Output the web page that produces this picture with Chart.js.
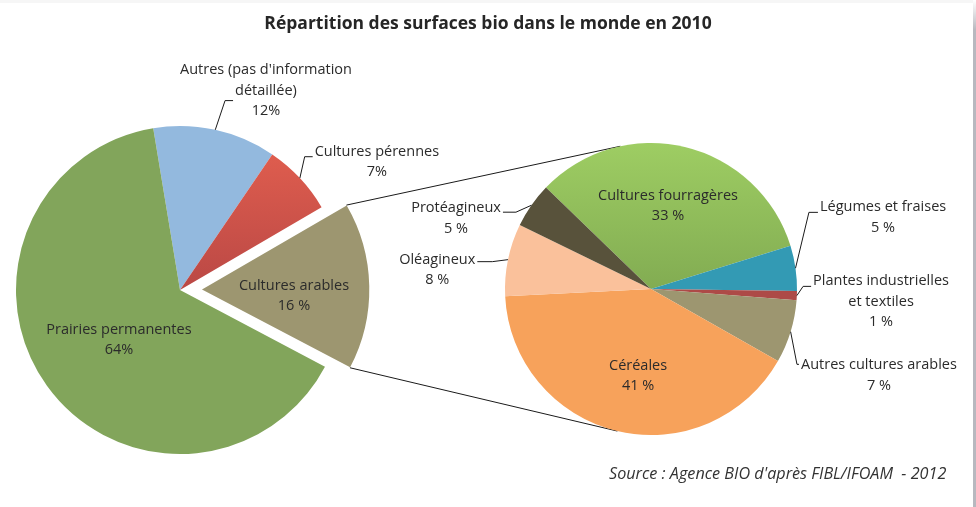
<!DOCTYPE html>
<html lang="fr">
<head>
<meta charset="utf-8">
<script src="https://cdn.jsdelivr.net/npm/chart.js@4.4.0/dist/chart.umd.min.js"></script>
<style>
  html, body { margin: 0; padding: 0; background: #fff; }
  #wrap { position: relative; width: 976px; height: 507px; overflow: hidden; background: #fff; }
  #wrap canvas { position: absolute; left: 0; top: 0; }
  #topline { position: absolute; left: 0; top: 0; width: 976px; height: 3px; background: #f6f6f6; }
  #edge { position: absolute; left: 973px; top: 0; width: 3px; height: 507px;
          background: linear-gradient(to bottom, #ffffff 0px, #b8b8bf 30px, #b8b8bf 100%); }
  #title { position: absolute; left: 0; top: 12px; width: 976px; text-align: center;
           font: bold 17.5px "Open Sans", sans-serif; line-height: 20px; color: #262626; }
  #source { position: absolute; left: 609px; top: 463px; white-space: pre;
            font: italic 16.2px "Open Sans", sans-serif; line-height: 20px; color: #333; }
</style>
</head>
<body>
<div id="wrap">
  <div id="topline"></div>
  <canvas id="leftPie" width="976" height="507"></canvas>
  <canvas id="rightPie" width="976" height="507"></canvas>
  <div id="title">Répartition des surfaces bio dans le monde en 2010</div>
  <div id="source">Source : Agence BIO d'après FIBL/IFOAM  - 2012</div>
  <div id="edge"></div>
</div>
<script>
// données du graphique
const leftLabels = ["Autres (pas d'information\ndétaillée)", 'Cultures pérennes', 'Cultures arables', 'Prairies permanentes'];
const leftValues = [12, 7, 16, 64];
const leftPctText = ['12%', '7%', '16 %', '64%'];

const rightLabels = ['Cultures fourragères', 'Légumes et fraises', 'Plantes industrielles\net textiles',
                     'Autres cultures arables', 'Céréales', 'Oléagineux', 'Protéagineux'];
const rightValues = [33, 5, 1, 7, 41, 8, 5];
const rightPctText = ['33 %', '5 %', '1 %', '7 %', '41 %', '8 %', '5 %'];

const LABEL_FONT = '14.5px "Open Sans", sans-serif';
const LINE_H = 20.5;
const TEXT_COLOR = '#2b2b2b';

// couleurs : chaîne simple ou [haut, bas] pour un dégradé vertical
const leftColors = ['#93B9DE', ['#E66150', '#BA4845'], '#9D9670', '#82A55B'];
const rightColors = [['#9ECD63', '#82AC52'], '#339AB4', '#AD4A47', '#9D9670', '#F7A25B', '#FAC19B', '#58523B'];

function paint(colors) {
    return (c) => {
        const col = colors[c.dataIndex];
        if (!Array.isArray(col)) return col;
        const area = c.chart.chartArea;
        if (!area) return col[0];
        const cy = (area.top + area.bottom) / 2;
        const r = c.dataset.radius;
        const g = c.chart.ctx.createLinearGradient(0, cy - r, 0, cy);
        g.addColorStop(0, col[0]);
        g.addColorStop(1, col[1]);
        return g;
    };
}

// placement des étiquettes : distance (x rayon) et décalage d'angle par rapport au milieu de la part
const leftLayout = [
    { dist: 1.324, turn: 10.9, leader: { line: 1, dy: 10, len: 8 } },
    { dist: 1.432, turn: 10.0, leader: { line: 0, dy: 5, len: 8 } },
    { dist: 0.696, turn: 4.2 },
    { dist: 0.481, turn: -3.5 }
];
const rightLayout = [
    { dist: 0.58, turn: -1.8 },
    { dist: 1.663, turn: -8.9, leader: { line: 0, dy: 5, len: 9 } },
    { dist: 1.578, turn: 0.6, leader: { line: 0, dy: 5, len: 8 } },
    { dist: 1.67, turn: 3.8, leader: { line: 0, dy: -1, len: 2 } },
    { dist: 0.60, turn: -4.9 },
    { dist: 1.47, turn: -6.5, leader: { line: 0, dy: 2, len: 15 } },
    { dist: 1.42, turn: -15.1, leader: { line: 0, dy: 4, len: 13 } }
];

const pieLabels = {
    id: 'pieLabels',
    afterDatasetsDraw(chart, args, opts) {
        const ctx = chart.ctx;
        const arcs = chart.getDatasetMeta(0).data;
        ctx.save();
        ctx.font = LABEL_FONT;
        ctx.fillStyle = TEXT_COLOR;
        ctx.strokeStyle = '#1a1a1a';
        ctx.lineWidth = 1;
        ctx.textAlign = 'center';
        ctx.textBaseline = 'middle';
        arcs.forEach((arc, i) => {
            const lay = opts.layout[i];
            const lines = opts.names[i].split('\n').concat(opts.pcts[i]);
            const mid = (arc.startAngle + arc.endAngle) / 2;
            const cx = arc.x, cy = arc.y;
            const r = arc.outerRadius;
            const a = mid + lay.turn * Math.PI / 180;
            const bx = cx + Math.cos(a) * lay.dist * r;
            const by = cy + Math.sin(a) * lay.dist * r;
            const y0 = by - (lines.length - 1) * LINE_H / 2;
            lines.forEach((t, k) => ctx.fillText(t, bx, y0 + k * LINE_H));

            if (lay.leader) {
                const L = lay.leader;
                const ly = y0 + L.line * LINE_H + L.dy;
                const w = ctx.measureText(lines[L.line]).width;
                const side = bx > cx ? -1 : 1;
                const ax = bx + side * (w / 2 + 2);
                const ex = ax + side * L.len;
                const px = cx + Math.cos(mid) * r;
                const py = cy + Math.sin(mid) * r;
                ctx.beginPath();
                ctx.moveTo(ax, ly);
                ctx.lineTo(ex, ly);
                ctx.lineTo(px, py);
                ctx.stroke();
            }
        });
        ctx.restore();
    }
};

function pieOptions(padding, names, pcts, layout) {
    return {
        responsive: false,
        animation: false,
        layout: { padding: padding },
        plugins: {
            legend: { display: false },
            tooltip: { enabled: false },
            pieLabels: { names: names, pcts: pcts, layout: layout }
        }
    };
}

const leftChart = new Chart(document.getElementById('leftPie'), {
    type: 'pie',
    data: {
        labels: leftLabels,
        datasets: [{
            data: leftValues,
            backgroundColor: paint(leftColors),
            borderWidth: 0,
            offset: [0, 0, 88, 0],
            rotation: -9.4,
            radius: 164
        }]
    },
    options: pieOptions({ left: 0, right: 616, top: 73, bottom: 0 }, leftLabels, leftPctText, leftLayout),
    plugins: [pieLabels]
});

// lignes de liaison : coins de la part "Cultures arables" -> tangentes au second camembert
const connector = {
    id: 'connector',
    beforeDatasetsDraw(chart) {
        const src = leftChart.getDatasetMeta(0).data[2];
        const dst = chart.getDatasetMeta(0).data[0];
        const mid = (src.startAngle + src.endAngle) / 2;
        const t = (src.options.offset || 0) / 4;
        const fix = 1 - Math.sin(Math.min(Math.PI, src.circumference));
        const tx = src.x + Math.cos(mid) * t;
        const ty = src.y + Math.sin(mid) * t;
        const rv = src.outerRadius + t * fix;
        const R = dst.outerRadius;
        const ctx = chart.ctx;
        ctx.save();
        ctx.strokeStyle = '#1a1a1a';
        ctx.lineWidth = 1;
        [[src.startAngle, 1], [src.endAngle, -1]].forEach(([ang, sgn]) => {
            const px = tx + Math.cos(ang) * rv;
            const py = ty + Math.sin(ang) * rv;
            const d = Math.hypot(px - dst.x, py - dst.y);
            const theta = Math.atan2(py - dst.y, px - dst.x);
            const phi = Math.acos(R / d);
            const q = theta + sgn * phi;
            ctx.beginPath();
            ctx.moveTo(px, py);
            ctx.lineTo(dst.x + Math.cos(q) * R, dst.y + Math.sin(q) * R);
            ctx.stroke();
        });
        ctx.restore();
    }
};

const rightChart = new Chart(document.getElementById('rightPie'), {
    type: 'pie',
    data: {
        labels: rightLabels,
        datasets: [{
            data: rightValues,
            backgroundColor: paint(rightColors),
            borderWidth: 0,
            rotation: -46,
            radius: 146
        }]
    },
    options: pieOptions({ left: 326, right: 0, top: 71, bottom: 0 }, rightLabels, rightPctText, rightLayout),
    plugins: [connector, pieLabels]
});
</script>
</body>
</html>
